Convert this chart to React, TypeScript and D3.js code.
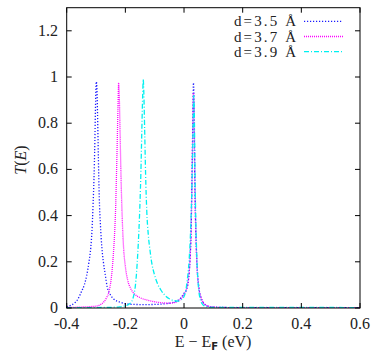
import React from 'react';
import * as d3 from 'd3';

// transmission T(E): [E - E_F (eV), T]
const d35: [number, number][] = [
  [-0.4, 0.006], [-0.385, 0.012], [-0.375, 0.02], [-0.362, 0.038], [-0.35, 0.07],
  [-0.34, 0.1], [-0.332, 0.14], [-0.324, 0.2], [-0.318, 0.26], [-0.314, 0.33],
  [-0.31, 0.45], [-0.307, 0.56], [-0.304, 0.72], [-0.302, 0.86], [-0.3, 0.96],
  [-0.299, 0.98], [-0.297, 0.95], [-0.295, 0.85], [-0.292, 0.65], [-0.289, 0.48],
  [-0.285, 0.36], [-0.28, 0.26], [-0.275, 0.2], [-0.268, 0.14], [-0.262, 0.092],
  [-0.25, 0.055], [-0.239, 0.038], [-0.22, 0.026], [-0.205, 0.02], [-0.18, 0.016],
  [-0.15, 0.015], [-0.12, 0.015], [-0.09, 0.016], [-0.06, 0.019], [-0.04, 0.023],
  [-0.024, 0.03], [-0.01, 0.045], [0, 0.063], [0.008, 0.078], [0.015, 0.12],
  [0.02, 0.2], [0.024, 0.33], [0.027, 0.55], [0.029, 0.72], [0.031, 0.9],
  [0.032, 0.975], [0.034, 0.9], [0.035, 0.8], [0.036, 0.66], [0.037, 0.55],
  [0.039, 0.4], [0.042, 0.26], [0.046, 0.15], [0.05, 0.1], [0.052, 0.078],
  [0.058, 0.045], [0.065, 0.025], [0.075, 0.012], [0.09, 0.006], [0.1, 0.004],
  [0.15, 0.002], [0.3, 0.001], [0.6, 0.001],
];

const d37: [number, number][] = [
  [-0.4, 0.002], [-0.35, 0.004], [-0.32, 0.006], [-0.296, 0.009], [-0.283, 0.016],
  [-0.273, 0.027], [-0.264, 0.045], [-0.256, 0.07], [-0.248, 0.13], [-0.244, 0.18],
  [-0.24, 0.25], [-0.236, 0.34], [-0.233, 0.44], [-0.231, 0.54], [-0.228, 0.7],
  [-0.225, 0.88], [-0.223, 0.975], [-0.221, 0.93], [-0.218, 0.76], [-0.215, 0.58],
  [-0.211, 0.4], [-0.206, 0.26], [-0.2, 0.18], [-0.192, 0.12], [-0.182, 0.085],
  [-0.17, 0.062], [-0.15, 0.045], [-0.125, 0.034], [-0.1, 0.027], [-0.07, 0.022],
  [-0.045, 0.021], [-0.025, 0.027], [-0.01, 0.04], [0, 0.06], [0.008, 0.08],
  [0.015, 0.125], [0.02, 0.2], [0.024, 0.33], [0.027, 0.52], [0.029, 0.7],
  [0.031, 0.88], [0.032, 0.93], [0.034, 0.85], [0.036, 0.64], [0.038, 0.46],
  [0.041, 0.29], [0.045, 0.16], [0.05, 0.09], [0.058, 0.045], [0.066, 0.022],
  [0.078, 0.01], [0.095, 0.005], [0.15, 0.002], [0.6, 0.002],
];

const d39: [number, number][] = [
  [-0.4, 0.001], [-0.3, 0.002], [-0.25, 0.003], [-0.22, 0.005], [-0.205, 0.008],
  [-0.192, 0.013], [-0.182, 0.022], [-0.175, 0.038], [-0.17, 0.063], [-0.166, 0.095],
  [-0.162, 0.15], [-0.158, 0.23], [-0.154, 0.33], [-0.15, 0.46], [-0.147, 0.59],
  [-0.144, 0.76], [-0.141, 0.92], [-0.139, 0.99], [-0.137, 0.93], [-0.134, 0.76],
  [-0.131, 0.58], [-0.127, 0.42], [-0.122, 0.32], [-0.116, 0.25], [-0.11, 0.195],
  [-0.102, 0.15], [-0.092, 0.11], [-0.079, 0.078], [-0.065, 0.055], [-0.05, 0.04],
  [-0.035, 0.032], [-0.02, 0.03], [-0.01, 0.035], [0, 0.05], [0.006, 0.075],
  [0.011, 0.12], [0.017, 0.2], [0.022, 0.32], [0.026, 0.48], [0.029, 0.65],
  [0.031, 0.8], [0.033, 0.92], [0.035, 0.85], [0.037, 0.65], [0.039, 0.46],
  [0.042, 0.29], [0.046, 0.15], [0.05, 0.08], [0.056, 0.035], [0.064, 0.015],
  [0.075, 0.006], [0.09, 0.003], [0.6, 0.002],
];

const seriesLabels = ['d=3.5 Å', 'd=3.7 Å', 'd=3.9 Å'];
const seriesData = [d35, d37, d39];
const seriesColors = ['#1a1aff', '#ff00ff', '#00f0f0'];
const seriesDash = ['1.2,1.8', '1,1', '5,2,1,2'];

const xTicks = [-0.4, -0.2, 0, 0.2, 0.4, 0.6];
const xTickLabels = ['-0.4', '-0.2', '0', '0.2', '0.4', '0.6'];
const yTicks = [0, 0.2, 0.4, 0.6, 0.8, 1, 1.2];
const yTickLabels = ['0', '0.2', '0.4', '0.6', '0.8', '1', '1.2'];

const App = () => {
  const width = 374;
  const height = 355;
  const left = 66.7, right = 360, top = 7.7, bottom = 308;
  const font = '"Liberation Serif", serif';

  const x = d3.scaleLinear().domain([-0.4, 0.6]).range([left, right]);
  const y = d3.scaleLinear().domain([0, 1.3]).range([bottom, top]);
  const line = d3.line<[number, number]>()
    .x(d => x(d[0]))
    .y(d => y(d[1]))
    .curve(d3.curveMonotoneX);

  const tick = 5;

  return (
    <svg width={width} height={height}
         style={{position: 'absolute', left: 0, top: 0, background: '#fff'}}>
      <defs>
        <clipPath id="plot">
          <rect x={left} y={top} width={right - left} height={bottom - top}/>
        </clipPath>
      </defs>

      {seriesData.map((d, i) =>
        <path key={i} d={line(d) || ''} fill="none" stroke={seriesColors[i]}
              strokeWidth={1.3} strokeDasharray={seriesDash[i]} clipPath="url(#plot)"/>
      )}

      {/* frame + ticks on all sides */}
      <rect x={left} y={top} width={right - left} height={bottom - top}
            fill="none" stroke="#000" strokeWidth={1}/>
      {xTicks.map((t, i) =>
        <g key={'x' + i}>
          <line x1={x(t)} x2={x(t)} y1={bottom} y2={bottom - tick} stroke="#000"/>
          <line x1={x(t)} x2={x(t)} y1={top} y2={top + tick} stroke="#000"/>
          <text x={x(t)} y={329} textAnchor="middle" fontFamily={font}
                fontSize={16} fill="#222">{xTickLabels[i]}</text>
        </g>
      )}
      {yTicks.map((t, i) =>
        <g key={'y' + i}>
          <line x1={left} x2={left + tick} y1={y(t)} y2={y(t)} stroke="#000"/>
          <line x1={right} x2={right - tick} y1={y(t)} y2={y(t)} stroke="#000"/>
          <text x={58} y={y(t) + 5} textAnchor="end" fontFamily={font}
                fontSize={16} fill="#222">{yTickLabels[i]}</text>
        </g>
      )}

      {/* legend */}
      {seriesLabels.map((s, i) => {
        const ly = 21.3 + i * 15.2;
        return (
          <g key={'l' + i}>
            <text x={296} y={ly + 5} textAnchor="end" fontFamily={font}
                  fontSize={15} textLength={62} lengthAdjust="spacing" fill="#222">{s}</text>
            <line x1={304} x2={343} y1={ly} y2={ly} stroke={seriesColors[i]}
                  strokeWidth={1.3} strokeDasharray={seriesDash[i]}/>
          </g>
        );
      })}

      {/* axis titles */}
      <text x={213} y={347} textAnchor="middle" fontFamily={font} fontSize={16} fill="#222">
        E − E<tspan fontSize={10} dy={3} fontFamily='"DejaVu Sans", sans-serif' fontWeight="bold">F</tspan>
        <tspan dy={-3}> (eV)</tspan>
      </text>
      <text transform="translate(26,160) rotate(-90)" textAnchor="middle"
            fontFamily={font} fontSize={16} fill="#222">
        <tspan fontStyle="italic">T</tspan>(<tspan fontStyle="italic">E</tspan>)
      </text>
    </svg>
  );
};

export default App;
